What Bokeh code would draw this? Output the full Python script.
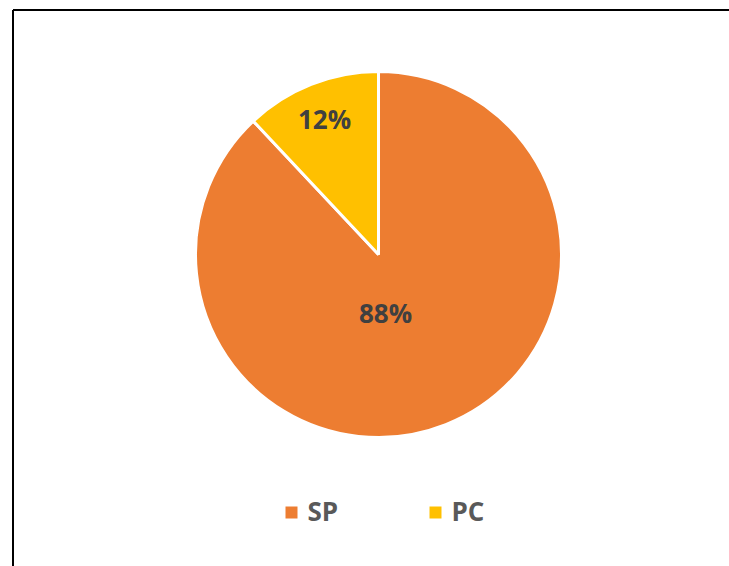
import math
from bokeh.plotting import figure
from bokeh.models import Range1d, ColumnDataSource
from bokeh.core.properties import value
from bokeh.embed import file_html
from bokeh.resources import INLINE

categories = ["SP", "PC"]
shares = [88, 12]
colors = ["#ED7D31", "#FFC000"]
labels = ["88%", "12%"]

W, H = 729, 566
p = figure(width=W, height=H, output_backend="svg", toolbar_location=None,
           x_range=Range1d(0, W), y_range=Range1d(0, H),
           min_border=0, outline_line_color=None)
p.axis.visible = False
p.grid.visible = False
p.background_fill_color = "white"
p.border_fill_color = "white"

# chart border (left and top visible)
p.segment(x0=[12.5, 12.5], y0=[-5, 556.5], x1=[12.5, W + 5], y1=[556.5, 556.5],
          line_color="black", line_width=2)

cx, cy, r = 378, 312, 183
total = sum(shares)
starts, ends = [], []
acc = 0.0
for s in shares:
    a0 = math.pi / 2 - 2 * math.pi * acc / total
    acc += s
    a1 = math.pi / 2 - 2 * math.pi * acc / total
    starts.append(a0)
    ends.append(a1)

src = ColumnDataSource(dict(cat=categories, start=starts, end=ends, color=colors))
p.wedge(x=cx, y=cy, radius=r, start_angle="start", end_angle="end",
        direction="clock", fill_color="color", line_color="white",
        line_width=3, source=src)

# data labels (offsets from centre)
lab_dx = [7, -54]
lab_dy = [-58.5, 135.5]
p.text(x=[cx + d for d in lab_dx], y=[cy + d for d in lab_dy], text=labels,
       text_font=value("Open Sans"), text_font_style="bold",
       text_font_size="26px", text_color="#404040",
       text_align="center", text_baseline="middle")

# legend
lx0, ly, step = 291, 54, 144
leg_x = [lx0 + i * step for i in range(len(categories))]
p.scatter(x=leg_x, y=[ly] * len(categories), marker="square", size=12,
          fill_color=colors, line_color=None)
p.text(x=[x + 16 for x in leg_x], y=[ly + 1.5] * len(categories), text=categories,
       text_font=value("Open Sans"), text_font_style="bold",
       text_font_size="26px", text_color="#595959",
       text_align="left", text_baseline="middle")

open("out.html", "w").write(file_html(p, INLINE))
